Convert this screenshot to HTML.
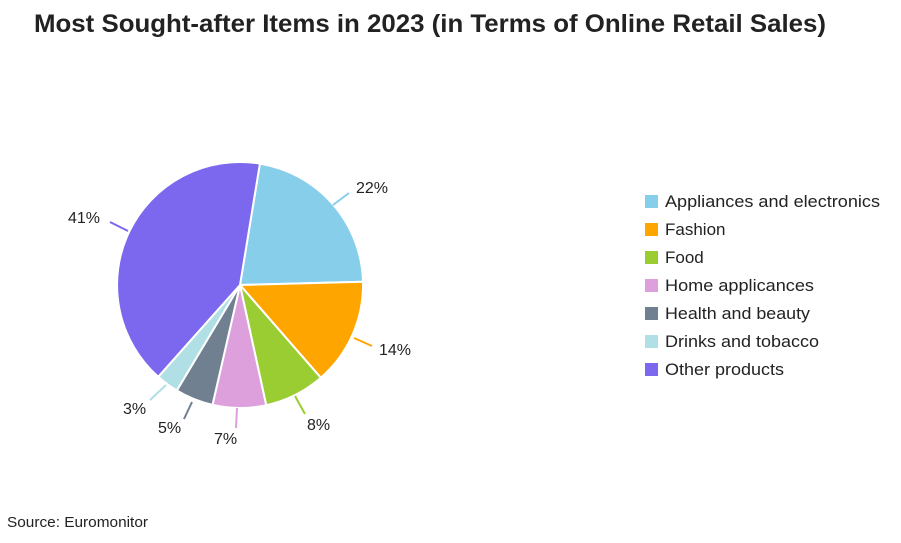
<!DOCTYPE html>
<html><head><meta charset="utf-8"><style>
body{margin:0;background:#fff;width:901px;height:538px;overflow:hidden;font-family:"Liberation Sans",sans-serif}
</style></head><body>
<svg width="901" height="538" xmlns="http://www.w3.org/2000/svg" font-family="Liberation Sans, sans-serif">
<text x="34" y="32" font-size="25" font-weight="bold" fill="#222" textLength="792" lengthAdjust="spacingAndGlyphs">Most Sought-after Items in 2023 (in Terms of Online Retail Sales)</text>
<g stroke="#fff" stroke-width="2">
<path d="M240,285 L259.9,163.6 A123,123 0 0 1 363.0,281.8 Z" fill="#87CEEB"/>
<path d="M240,285 L363.0,281.8 A123,123 0 0 1 320.8,377.7 Z" fill="#FFA500"/>
<path d="M240,285 L320.8,377.7 A123,123 0 0 1 266.2,405.2 Z" fill="#9ACD32"/>
<path d="M240,285 L266.2,405.2 A123,123 0 0 1 212.5,404.9 Z" fill="#DDA0DD"/>
<path d="M240,285 L212.5,404.9 A123,123 0 0 1 176.8,390.5 Z" fill="#708090"/>
<path d="M240,285 L176.8,390.5 A123,123 0 0 1 158.2,376.8 Z" fill="#B0E0E6"/>
<path d="M240,285 L158.2,376.8 A123,123 0 0 1 259.9,163.6 Z" fill="#7B68EE"/>
</g>
<g stroke-width="2" fill="none">
<line x1="333" y1="205" x2="349" y2="193" stroke="#87CEEB"/>
<line x1="354" y1="338" x2="372" y2="346" stroke="#FFA500"/>
<line x1="295" y1="396" x2="305" y2="414" stroke="#9ACD32"/>
<line x1="237" y1="408" x2="236" y2="428" stroke="#DDA0DD"/>
<line x1="192" y1="402" x2="184" y2="419" stroke="#708090"/>
<line x1="166" y1="385" x2="150" y2="400" stroke="#B0E0E6"/>
<line x1="128" y1="231" x2="110" y2="222" stroke="#7B68EE"/>
</g>
<g font-size="16" fill="#222">
<text x="356" y="193">22%</text>
<text x="379" y="355">14%</text>
<text x="307" y="430">8%</text>
<text x="214" y="444">7%</text>
<text x="158" y="433">5%</text>
<text x="123" y="414">3%</text>
<text x="68" y="223">41%</text>
</g>
<g font-size="17" fill="#222">
<rect x="645" y="195" width="13" height="13" fill="#87CEEB"/><text x="665" y="207" textLength="215" lengthAdjust="spacingAndGlyphs">Appliances and electronics</text>
<rect x="645" y="223" width="13" height="13" fill="#FFA500"/><text x="665" y="235">Fashion</text>
<rect x="645" y="251" width="13" height="13" fill="#9ACD32"/><text x="665" y="263">Food</text>
<rect x="645" y="279" width="13" height="13" fill="#DDA0DD"/><text x="665" y="291" textLength="149" lengthAdjust="spacingAndGlyphs">Home applicances</text>
<rect x="645" y="307" width="13" height="13" fill="#708090"/><text x="665" y="319" textLength="145" lengthAdjust="spacingAndGlyphs">Health and beauty</text>
<rect x="645" y="335" width="13" height="13" fill="#B0E0E6"/><text x="665" y="347" textLength="154" lengthAdjust="spacingAndGlyphs">Drinks and tobacco</text>
<rect x="645" y="363" width="13" height="13" fill="#7B68EE"/><text x="665" y="375" textLength="119" lengthAdjust="spacingAndGlyphs">Other products</text>
</g>
<text x="7" y="527" font-size="15" fill="#222" textLength="141" lengthAdjust="spacingAndGlyphs">Source: Euromonitor</text>
</svg>
</body></html>
